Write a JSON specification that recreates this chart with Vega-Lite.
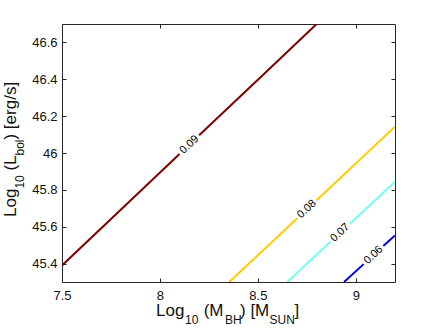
{
  "$schema": "https://vega.github.io/schema/vega-lite/v6.json",
  "width": 333,
  "height": 258,
  "autosize": {"type": "none"},
  "padding": {"left": 62, "top": 24, "right": 41, "bottom": 46},
  "background": "white",
  "config": {
    "view": {"stroke": null},
    "font": "Liberation Sans",
    "axis": {
      "grid": false,
      "domainColor": "#262626",
      "tickColor": "#262626",
      "labelColor": "#111111",
      "labelFont": "Liberation Sans",
      "labelFontSize": 13,
      "tickSize": -4,
      "domainWidth": 1,
      "tickWidth": 1,
      "title": null
    }
  },
  "datasets": {
    "contours": [
      {"level": "0.09", "seg": "a", "x": 7.5, "y": 45.39},
      {"level": "0.09", "seg": "a", "x": 7.8, "y": 45.692},
      {"level": "0.09", "seg": "a", "x": 8.1, "y": 45.995},
      {"level": "0.09", "seg": "b", "x": 8.2, "y": 46.096},
      {"level": "0.09", "seg": "b", "x": 8.5, "y": 46.398},
      {"level": "0.09", "seg": "b", "x": 8.8, "y": 46.7},
      {"level": "0.08", "seg": "a", "x": 8.354, "y": 45.3},
      {"level": "0.08", "seg": "a", "x": 8.7, "y": 45.645},
      {"level": "0.08", "seg": "b", "x": 8.8, "y": 45.744},
      {"level": "0.08", "seg": "b", "x": 9.2, "y": 46.143},
      {"level": "0.07", "seg": "a", "x": 8.65, "y": 45.3},
      {"level": "0.07", "seg": "a", "x": 8.87, "y": 45.518},
      {"level": "0.07", "seg": "b", "x": 8.97, "y": 45.616},
      {"level": "0.07", "seg": "b", "x": 9.2, "y": 45.844},
      {"level": "0.06", "seg": "a", "x": 8.94, "y": 45.3},
      {"level": "0.06", "seg": "a", "x": 9.04, "y": 45.397},
      {"level": "0.06", "seg": "b", "x": 9.14, "y": 45.495},
      {"level": "0.06", "seg": "b", "x": 9.2, "y": 45.553}
    ],
    "labels": [
      {"level": "0.09", "x": 8.15, "y": 46.045},
      {"level": "0.08", "x": 8.75, "y": 45.695},
      {"level": "0.07", "x": 8.92, "y": 45.567},
      {"level": "0.06", "x": 9.09, "y": 45.446}
    ],
    "xtitle_main": [
      {"text": "Log", "x": 7.9799},
      {"text": "(M", "x": 8.2234},
      {"text": ") [M", "x": 8.4087},
      {"text": "]", "x": 8.687}
    ],
    "xtitle_sub": [
      {"text": "10", "x": 8.1279},
      {"text": "BH", "x": 8.3321},
      {"text": "SUN", "x": 8.5593}
    ],
    "ytitle_main": [
      {"text": "Log", "y": 45.6527},
      {"text": "(L", "y": 45.9045},
      {"text": ") [erg/s]", "y": 46.0732}
    ],
    "ytitle_sub": [
      {"text": "10", "y": 45.8068},
      {"text": "bol", "y": 45.9864}
    ]
  },
  "resolve": {"axis": {"x": "independent", "y": "independent"}},
  "layer": [
    {
      "data": {"name": "contours"},
      "mark": {"type": "line", "strokeWidth": 2, "clip": true},
      "encoding": {
        "x": {"field": "x", "type": "quantitative",
          "scale": {"domain": [7.5, 9.2], "nice": false, "zero": false},
          "axis": {"orient": "bottom", "values": [7.5, 8, 8.5, 9], "labelExpr": "datum.value + ''", "labelPadding": 11, "labelFlush": false}},
        "y": {"field": "y", "type": "quantitative",
          "scale": {"domain": [45.3, 46.7], "nice": false, "zero": false},
          "axis": {"orient": "left", "values": [45.4, 45.6, 45.8, 46, 46.2, 46.4, 46.6], "labelExpr": "datum.value + ''", "labelPadding": 9, "labelFlush": false}},
        "color": {"field": "level", "type": "nominal",
          "scale": {"domain": ["0.06", "0.07", "0.08", "0.09"], "range": ["#0000e0", "#70fff0", "#ffcc00", "#800000"]},
          "legend": null},
        "detail": {"field": "seg"}
      }
    },
    {
      "data": {"name": "labels"},
      "mark": {"type": "text", "fontSize": 11, "angle": 317, "align": "center", "baseline": "middle", "color": "#000000", "font": "Liberation Sans"},
      "encoding": {
        "x": {"field": "x", "type": "quantitative",
          "axis": {"orient": "top", "values": [7.5, 8, 8.5, 9], "labels": false}},
        "y": {"field": "y", "type": "quantitative",
          "axis": {"orient": "right", "values": [45.4, 45.6, 45.8, 46, 46.2, 46.4, 46.6], "labels": false}},
        "text": {"field": "level"}
      }
    },
    {
      "data": {"name": "xtitle_main"},
      "mark": {"type": "text", "fontSize": 17, "align": "left", "baseline": "alphabetic", "dy": 34, "color": "#111111", "font": "Liberation Sans"},
      "encoding": {
        "x": {"field": "x", "type": "quantitative", "axis": null},
        "y": {"datum": 45.3, "type": "quantitative", "axis": null},
        "text": {"field": "text"}
      }
    },
    {
      "data": {"name": "xtitle_sub"},
      "mark": {"type": "text", "fontSize": 12, "align": "left", "baseline": "alphabetic", "dy": 41.5, "color": "#111111", "font": "Liberation Sans"},
      "encoding": {
        "x": {"field": "x", "type": "quantitative", "axis": null},
        "y": {"datum": 45.3, "type": "quantitative", "axis": null},
        "text": {"field": "text"}
      }
    },
    {
      "data": {"name": "ytitle_main"},
      "mark": {"type": "text", "fontSize": 17, "angle": 270, "align": "left", "baseline": "alphabetic", "dy": -46, "color": "#111111", "font": "Liberation Sans"},
      "encoding": {
        "x": {"datum": 7.5, "type": "quantitative", "axis": null},
        "y": {"field": "y", "type": "quantitative", "axis": null},
        "text": {"field": "text"}
      }
    },
    {
      "data": {"name": "ytitle_sub"},
      "mark": {"type": "text", "fontSize": 12, "angle": 270, "align": "left", "baseline": "alphabetic", "dy": -38.5, "color": "#111111", "font": "Liberation Sans"},
      "encoding": {
        "x": {"datum": 7.5, "type": "quantitative", "axis": null},
        "y": {"field": "y", "type": "quantitative", "axis": null},
        "text": {"field": "text"}
      }
    }
  ]
}
